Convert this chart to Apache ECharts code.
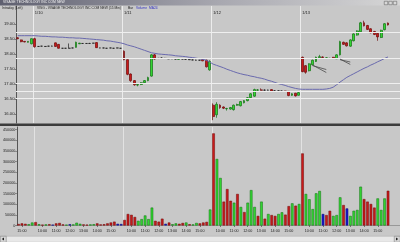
<!DOCTYPE html>
<html><head><meta charset="utf-8">
<script src="https://cdn.jsdelivr.net/npm/echarts@6/dist/echarts.min.js"></script>
<style>html,body{margin:0;padding:0;background:#c8c8c8}#c{width:400px;height:242px}</style>
</head><body><div id="c"></div>
<script>
// ---- data ----
const days = ['1/9','1/10','1/11','1/12','1/13'];
const sessionTimes = ['9:30','9:45','10:00','10:15','10:30','10:45','11:00','11:15','11:30','11:45','12:00','12:15','12:30','12:45','13:00','13:15','13:30','13:45','14:00','14:15','14:30','14:45','15:00','15:15','15:30','15:45'];
const firstDayFrom = '14:45';
// candles: [open, close, low, high]
const bars0109 = [[18.55,18.52,18.50,18.57],[18.48,18.42,18.40,18.49],[18.43,18.41,18.40,18.44],[18.40,18.43,18.39,18.44],[18.35,18.52,18.33,18.53]];
const bars0110 = [[18.52,18.25,18.22,18.55],[18.26,18.26,18.25,18.27],[18.27,18.27,18.26,18.28],[18.26,18.26,18.25,18.27],[18.27,18.27,18.26,18.28],[18.27,18.27,18.26,18.29],[18.38,18.26,18.25,18.39],[18.33,18.20,18.19,18.34],[18.20,18.20,18.19,18.21],[18.20,18.20,18.19,18.21],[18.20,18.20,18.19,18.36],[18.21,18.21,18.20,18.22],[18.23,18.40,18.22,18.42],[18.35,18.37,18.34,18.38],[18.36,18.36,18.35,18.37],[18.36,18.36,18.35,18.37],[18.36,18.36,18.35,18.38],[18.37,18.37,18.36,18.38],[18.39,18.22,18.21,18.40],[18.21,18.21,18.20,18.22],[18.21,18.21,18.20,18.22],[18.20,18.20,18.19,18.21],[18.21,18.21,18.20,18.22],[18.20,18.20,18.19,18.21],[18.21,18.21,18.20,18.22],[18.20,18.20,18.19,18.21]];
const bars0111 = [[18.10,17.82,17.80,18.13],[17.82,17.33,17.30,17.83],[17.34,17.12,17.08,17.36],[17.12,16.98,16.95,17.14],[16.97,16.99,16.93,17.01],[16.99,17.05,16.97,17.07],[17.05,17.12,17.03,17.14],[17.12,17.22,17.10,17.25],[17.27,17.98,17.25,18.00],[17.98,17.84,17.82,18.01],[17.86,17.86,17.84,17.88],[17.87,17.87,17.85,17.90],[17.86,17.86,17.85,17.88],[17.85,17.85,17.84,17.87],[17.85,17.85,17.84,17.86],[17.84,17.84,17.83,17.86],[17.83,17.85,17.82,17.86],[17.84,17.84,17.83,17.85],[17.83,17.83,17.82,17.84],[17.82,17.82,17.81,17.84],[17.81,17.81,17.80,17.83],[17.80,17.80,17.79,17.82],[17.80,17.80,17.79,17.81],[17.82,17.78,17.77,17.84],[17.80,17.58,17.56,17.82],[17.48,17.76,17.45,17.80]];
const bars0112 = [[16.30,15.92,15.80,16.36],[15.98,16.33,15.88,16.40],[16.30,16.22,16.18,16.33],[16.24,16.20,16.17,16.26],[16.18,16.19,16.12,16.21],[16.17,16.22,16.15,16.24],[16.15,16.30,16.12,16.32],[16.30,16.32,16.28,16.35],[16.28,16.42,16.26,16.44],[16.38,16.45,16.36,16.47],[16.45,16.55,16.43,16.57],[16.55,16.68,16.53,16.70],[16.60,16.82,16.58,16.85],[16.80,16.81,16.78,16.84],[16.81,16.80,16.79,16.86],[16.80,16.80,16.78,16.83],[16.80,16.80,16.79,16.82],[16.82,16.77,16.76,16.83],[16.78,16.78,16.77,16.80],[16.78,16.78,16.76,16.79],[16.77,16.77,16.76,16.79],[16.77,16.76,16.75,16.78],[16.76,16.62,16.60,16.77],[16.63,16.68,16.61,16.70],[16.70,16.61,16.59,16.71],[16.63,16.72,16.62,16.74]];
const bars0113 = [[17.90,17.42,17.40,17.92],[17.62,17.40,17.35,17.64],[17.45,17.68,17.43,17.70],[17.65,17.80,17.63,17.82],[17.76,17.90,17.74,17.92],[17.88,17.92,17.86,17.98],[17.91,17.89,17.87,17.93],[17.87,17.88,17.86,17.90],[17.86,17.86,17.85,17.88],[17.90,17.86,17.85,17.91],[17.85,17.98,17.84,18.00],[17.98,18.42,17.96,18.45],[18.40,18.33,18.31,18.42],[18.38,18.28,18.26,18.40],[18.27,18.48,18.25,18.50],[18.45,18.68,18.43,18.70],[18.64,18.78,18.62,18.80],[18.75,19.05,18.73,19.08],[19.05,18.95,18.93,19.12],[18.96,18.83,18.81,18.98],[18.85,18.72,18.70,18.87],[18.76,18.66,18.64,18.78],[18.70,18.58,18.45,18.72],[18.56,18.80,18.54,18.82],[18.82,19.02,18.80,19.04],[19.04,18.98,18.96,19.06]];
// MA24
const ma0109 = [18.62,18.62,18.62,18.62,18.62];
const ma0110 = [18.62,18.61,18.60,18.60,18.59,18.58,18.58,18.57,18.57,18.56,18.55,18.55,18.54,18.54,18.53,18.52,18.51,18.50,18.49,18.48,18.47,18.45,18.44,18.42,18.40,18.38];
const ma0111 = [18.35,18.31,18.28,18.25,18.21,18.17,18.13,18.09,18.05,18.03,18.01,18.00,17.99,17.98,17.97,17.95,17.94,17.93,17.92,17.90,17.89,17.87,17.85,17.83,17.80,17.74];
const ma0112 = [17.67,17.63,17.59,17.55,17.50,17.46,17.42,17.38,17.35,17.32,17.30,17.27,17.25,17.22,17.20,17.17,17.13,17.10,17.06,17.02,16.99,16.96,16.92,16.89,16.86,16.84];
const ma0113 = [16.83,16.83,16.83,16.83,16.83,16.83,16.83,16.84,16.86,16.90,16.98,17.07,17.15,17.23,17.29,17.35,17.41,17.47,17.53,17.58,17.64,17.69,17.75,17.80,17.86,17.91];
// volume and its colour (u = up, d = down, n = unchanged)
const vol0109 = [7000,10000,8000,6000,14000];
const dir0109 = ['d','d','d','u','u'];
const vol0110 = [16000,6000,4000,5000,6000,4000,10000,12000,5000,4000,6000,5000,13000,8000,5000,4000,5000,6000,10000,5000,6000,10000,14000,18000,8000,7000];
const dir0110 = ['d','u','d','u','d','n','d','d','d','u','n','u','u','u','d','d','u','u','d','d','d','d','d','d','n','n'];
const vol0111 = [26000,54000,50000,40000,22000,30000,47000,30000,84000,22000,18000,32000,8000,14000,6000,10000,8000,12000,14000,6000,5000,12000,10000,14000,17000,75000];
const dir0111 = ['d','d','d','d','u','u','u','u','u','d','d','d','n','d','u','u','d','d','u','d','u','u','d','d','d','u'];
const vol0112 = [432000,312000,223000,112000,171000,116000,107000,148000,87000,63000,107000,166000,87000,45000,112000,32000,54000,49000,45000,54000,62000,51000,91000,104000,93000,101000];
const dir0112 = ['d','u','u','d','d','d','u','d','u','d','u','u','u','d','u','d','u','d','d','u','u','d','d','u','d','u'];
const vol0113 = [338000,148000,123000,77000,151000,162000,54000,49000,69000,45000,49000,132000,96000,80000,45000,69000,73000,182000,124000,112000,101000,84000,127000,73000,127000,163000];
const dir0113 = ['d','u','u','u','u','u','n','d','d','u','u','u','d','n','u','u','u','u','d','d','d','d','u','u','u','d'];
// drawn price levels and trend lines
const levels = [18.72, 17.88, 17.04, 16.78, 16.53];
const trendLines = [[86,17.64,90,17.39],[86,17.62,90,17.49],[94,17.84,97,17.66],[94,17.82,97,17.74]];
const priceTicks = [16,16.5,17,17.5,18,18.5,19];
const volumeTicks = [0,50000,100000,150000,200000,250000,300000,350000,400000,450000];

// ---- build ----
const cats = [];
days.forEach((d, di) => {
  const times = di === 0 ? sessionTimes.slice(sessionTimes.indexOf(firstDayFrom)) : sessionTimes;
  times.forEach(t => cats.push(d + ' ' + t));
});
const ohlc = [].concat(bars0109, bars0110, bars0111, bars0112, bars0113);
const ma = [].concat(ma0109, ma0110, ma0111, ma0112, ma0113);
const vols = [].concat(vol0109, vol0110, vol0111, vol0112, vol0113);
const dirs = [].concat(dir0109, dir0110, dir0111, dir0112, dir0113);
const volFill = {u:'#33d633', d:'#c81a1a', n:'#1a1ad0'};
const volEdge = {u:'#0f6e0f', d:'#6e0a0a', n:'#0a0a70'};
const lastIdx = cats.length + 2;
const isDayStart = (i, v) => !!v && v.endsWith(' 9:30');
const isHour = (i, v) => !!v && v.split(' ')[1].endsWith(':00');
const FONT = 'Liberation Sans, Arial, sans-serif';

const chart = echarts.init(document.getElementById('c'), null, {renderer:'canvas'});
chart.setOption({
  animation: false,
  backgroundColor: '#c8c8c8',
  grid: [
    {left:16, right:0, top:6, height:117},
    {left:16, right:0, top:127, height:98.5}
  ],
  xAxis: [
    {type:'category', gridIndex:0, data:cats, max:lastIdx, position:'top', boundaryGap:true,
     axisLine:{show:false}, axisTick:{show:false},
     axisLabel:{show:true, inside:true, interval:isDayStart, formatter:v=>v?v.split(' ')[0]:'',
                fontSize:4, color:'#222', fontFamily:FONT, align:'left', margin:5},
     splitLine:{show:true, interval:isDayStart, lineStyle:{color:'#ececec', width:1}}},
    {type:'category', gridIndex:1, data:cats, max:lastIdx, position:'bottom', boundaryGap:true,
     axisLine:{show:true, lineStyle:{color:'#777', width:0.6}},
     axisTick:{show:true, interval:isHour, alignWithLabel:true, length:1.5, lineStyle:{color:'#333', width:0.6}},
     axisLabel:{show:true, interval:isHour, formatter:v=>v?v.split(' ')[1]:'',
                fontSize:3.7, color:'#222', fontFamily:FONT, margin:3},
     splitLine:{show:true, interval:isDayStart, lineStyle:{color:'#e2e2e2', width:1}}}
  ],
  yAxis: [
    {type:'value', gridIndex:0, min:15.705, max:19.611, position:'left',
     axisLine:{show:true, lineStyle:{color:'#555', width:1}},
     axisTick:{show:true, customValues:priceTicks, length:1.5, lineStyle:{color:'#444', width:0.6}},
     axisLabel:{show:true, customValues:priceTicks, formatter:v=>v.toFixed(2), fontSize:4.2, color:'#222', fontFamily:FONT, margin:1.5},
     splitLine:{show:false}},
    {type:'value', gridIndex:1, min:0, max:462000, position:'left',
     axisLine:{show:true, lineStyle:{color:'#555', width:1}},
     axisTick:{show:true, customValues:volumeTicks, length:1.5, lineStyle:{color:'#444', width:0.6}},
     axisLabel:{show:true, customValues:volumeTicks, formatter:v=>String(v), fontSize:3.7, color:'#222', fontFamily:FONT, margin:1.5},
     splitLine:{show:false}}
  ],
  series: [
    {type:'line', xAxisIndex:0, yAxisIndex:0, data:[], z:1, silent:true,
     markLine:{symbol:'none', silent:true, animation:false, label:{show:false},
       lineStyle:{color:'#efefef', type:'solid', width:1},
       data: levels.map(v => ({yAxis:v})).concat(
         trendLines.map(t => [{coord:[cats[t[0]], t[1]], lineStyle:{color:'#4a4a4a', width:0.8, type:'solid'}},
                              {coord:[cats[t[2]], t[3]]}]))}},
    {type:'candlestick', xAxisIndex:0, yAxisIndex:0, data:ohlc, barWidth:'70%', z:3,
     itemStyle:{color:'#33d633', color0:'#c81a1a', borderColor:'#117011', borderColor0:'#6e0a0a',
                borderColorDoji:'#222', borderWidth:0.7}},
    {type:'line', xAxisIndex:0, yAxisIndex:0, data:ma, showSymbol:false, symbol:'none', z:4,
     lineStyle:{color:'#6a6aae', width:1}},
    {type:'bar', xAxisIndex:1, yAxisIndex:1, barWidth:'76%',
     data: vols.map((v, i) => ({value:v, itemStyle:{color:volFill[dirs[i]], borderColor:volEdge[dirs[i]], borderWidth:0.5}}))}
  ],
  graphic: [
    {type:'rect', left:0, top:0, shape:{width:400, height:5.5}, z:100,
     style:{fill:new echarts.graphic.LinearGradient(0,0,1,0,[{offset:0,color:'#5f6070'},{offset:0.55,color:'#a8a8b0'},{offset:1,color:'#d6d6d6'}])}},
    {type:'text', left:3, top:0.6, z:101, style:{text:'VISAGE TECHNOLOGY INC COM NEW', fill:'#f2f2f2', font:'3.4px '+FONT}},
    {type:'rect', left:384, top:1, shape:{width:3.5, height:3.5}, z:101, style:{fill:'#d8d8d8', stroke:'#555', lineWidth:0.5}},
    {type:'rect', left:388.5, top:1, shape:{width:3.5, height:3.5}, z:101, style:{fill:'#d8d8d8', stroke:'#555', lineWidth:0.5}},
    {type:'rect', left:393, top:1, shape:{width:3.5, height:3.5}, z:101, style:{fill:'#d8d8d8', stroke:'#555', lineWidth:0.5}},
    {type:'text', left:2, top:7, z:101, style:{text:'Intraday (Left)', fill:'#222', font:'3.3px '+FONT}},
    {type:'text', left:37, top:7, z:101, style:{text:'VISG - VISAGE TECHNOLOGY INC COM NEW (15 Min)', fill:'#222', font:'3.3px '+FONT}},
    {type:'text', left:128, top:7, z:101, style:{text:'Bar', fill:'#222', font:'3.3px '+FONT}},
    {type:'text', left:136, top:7, z:101, style:{text:'Volume', fill:'#3030c0', font:'3.3px '+FONT}},
    {type:'text', left:149, top:7, z:101, style:{text:'MA24', fill:'#3030c0', font:'3.3px '+FONT}},
    {type:'rect', left:0, top:123.5, shape:{width:400, height:2.5}, z:100, style:{fill:'#3c3c3c'}},
    {type:'rect', left:0, top:236, shape:{width:400, height:6}, z:100, style:{fill:'#e8e8e8', stroke:'#aaa', lineWidth:0.5}},
    {type:'rect', left:0, top:236, shape:{width:6, height:6}, z:101, style:{fill:'#d6d6d6', stroke:'#777', lineWidth:0.5}},
    {type:'polygon', z:102, shape:{points:[[1.8,239],[4,237.6],[4,240.4]]}, style:{fill:'#222'}},
    {type:'rect', left:394, top:236, shape:{width:6, height:6}, z:101, style:{fill:'#d6d6d6', stroke:'#777', lineWidth:0.5}},
    {type:'polygon', z:102, shape:{points:[[398.2,239],[396,237.6],[396,240.4]]}, style:{fill:'#222'}}
  ]
});
</script></body></html>
